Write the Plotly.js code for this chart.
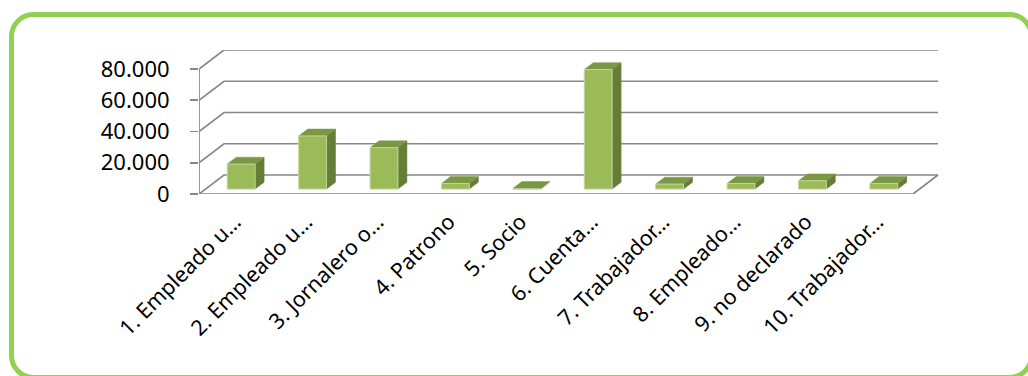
<!DOCTYPE html>
<html>
<head>
<meta charset="utf-8">
<script src="https://cdn.plot.ly/plotly-3.0.1.min.js"></script>
<style>
  html, body { margin: 0; padding: 0; background: #ffffff; overflow: hidden; }
  #chart { width: 1028px; height: 376px; }
</style>
</head>
<body>
<div id="chart"></div>
<script>
// ---- data ----
const categories = ["1. Empleado u…", "2. Empleado u…", "3. Jornalero o…", "4. Patrono", "5. Socio",
                    "6. Cuenta…", "7. Trabajador…", "8. Empleado…", "9. no declarado", "10. Trabajador…"];
const values = [16000, 34000, 26500, 3600, 400, 76500, 3200, 3600, 5300, 3600];
const yTickVals = [0, 20000, 40000, 60000, 80000];
const yTickText = ["0", "20.000", "40.000", "60.000", "80.000"];

// ---- geometry (pixels -> data units) ----
const W = 1028, H = 376;
const M = {l: 199, r: 89, t: 50, b: 182};
const plotW = W - M.l - M.r, plotH = H - M.t - M.b;
const pxPerCat = 71.4;            // front-axis pixels per category
const pxPer1000 = 1.5625;         // front-axis pixels per 1000 units
const n = categories.length;
const xMin = -0.5, xMax = xMin + plotW / pxPerCat;
const yMax = plotH / pxPer1000 * 1000;
const DX = 25 / pxPerCat;         // depth shift (x)
const DY = 19 / pxPer1000 * 1000; // depth shift (y)
const f0 = 0.26, f1 = 0.62;       // bar depth span (fraction of full depth)
const bw = 0.39;                  // bar width (categories)
const xFrontR = xMin + n;

const gridColor = "#878787";
const traces = [];

// back wall + side wall grid lines
const gx = [], gy = [];
yTickVals.forEach(v => {
  gx.push(xMin, xMin + DX, xFrontR + DX, null);
  gy.push(v, v + DY, v + DY, null);
});
// front left vertical axis
gx.push(xMin, xMin, null); gy.push(0, yTickVals[yTickVals.length - 1], null);
// front baseline + floor right edge
gx.push(xMin, xFrontR, xFrontR + DX, null); gy.push(0, 0, DY, null);
traces.push({x: gx, y: gy, mode: "lines", line: {color: gridColor, width: 1.7},
             hoverinfo: "skip", showlegend: false, xaxis: "x", yaxis: "y"});

// 3D-look bars
const cFront = "#9BBB59", cTop = "#7A9843", cSide = "#667D37", cEdge = "#C3D69B";
values.forEach((v, i) => {
  const xl = i - bw / 2, xr = i + bw / 2;
  const y0 = f0 * DY, y1 = f1 * DY;
  const a0 = f0 * DX, a1 = f1 * DX;
  traces.push({x: [xr + a0, xr + a1, xr + a1, xr + a0, xr + a0],
               y: [y0, y1, y1 + v, y0 + v, y0],
               mode: "lines", fill: "toself", fillcolor: cSide,
               line: {color: cSide, width: 0.5}, hoverinfo: "skip", showlegend: false});
  traces.push({x: [xl + a0, xr + a0, xr + a1, xl + a1, xl + a0],
               y: [y0 + v, y0 + v, y1 + v, y1 + v, y0 + v],
               mode: "lines", fill: "toself", fillcolor: cTop,
               line: {color: cTop, width: 0.5}, hoverinfo: "skip", showlegend: false});
  traces.push({x: [xl + a0, xr + a0, xr + a0, xl + a0, xl + a0],
               y: [y0, y0, y0 + v, y0 + v, y0],
               mode: "lines", fill: "toself", fillcolor: cFront,
               line: {color: cEdge, width: 1}, hoverinfo: "text",
               text: categories[i] + ": " + v, showlegend: false});
});

const boundaries = [];
for (let i = 0; i <= n; i++) boundaries.push(i - 0.5);

// rounded green frame (pixel geometry -> paper coords)
const PX = x => ((x - M.l) / plotW).toFixed(5);
const PY = y => (1 - (y - M.t) / plotH).toFixed(5);
function roundRect(x0, y0, x1, y1, r) {
  const k = 0.5523 * r;
  return "M" + PX(x0 + r) + "," + PY(y0) +
    " L" + PX(x1 - r) + "," + PY(y0) +
    " C" + PX(x1 - r + k) + "," + PY(y0) + " " + PX(x1) + "," + PY(y0 + r - k) + " " + PX(x1) + "," + PY(y0 + r) +
    " L" + PX(x1) + "," + PY(y1 - r) +
    " C" + PX(x1) + "," + PY(y1 - r + k) + " " + PX(x1 - r + k) + "," + PY(y1) + " " + PX(x1 - r) + "," + PY(y1) +
    " L" + PX(x0 + r) + "," + PY(y1) +
    " C" + PX(x0 + r - k) + "," + PY(y1) + " " + PX(x0) + "," + PY(y1 - r + k) + " " + PX(x0) + "," + PY(y1 - r) +
    " L" + PX(x0) + "," + PY(y0 + r) +
    " C" + PX(x0) + "," + PY(y0 + r - k) + " " + PX(x0 + r - k) + "," + PY(y0) + " " + PX(x0 + r) + "," + PY(y0) + " Z";
}

const font = {family: "Noto Sans, Open Sans, sans-serif", size: 21, color: "#000000"};

const layout = {
  width: W, height: H,
  margin: M,
  paper_bgcolor: "#ffffff", plot_bgcolor: "rgba(0,0,0,0)",
  showlegend: false,
  font: font,
  shapes: [{type: "path", xref: "paper", yref: "paper", layer: "above",
            path: roundRect(11.5, 14.5, 1031.5, 377.5, 22),
            line: {color: "#92D050", width: 5}, fillcolor: "rgba(0,0,0,0)"}],
  xaxis: {type: "linear", range: [xMin, xMax], tickmode: "array",
          tickvals: categories.map((c, i) => i), ticktext: categories,
          tickangle: -45, ticks: "", showgrid: false, zeroline: false, showline: false,
          ticklabelstandoff: 10,
          tickfont: {family: font.family, size: 21.5, color: "#000"}, fixedrange: true},
  xaxis2: {type: "linear", range: [xMin, xMax], overlaying: "x", anchor: "y", side: "bottom",
           tickmode: "array", tickvals: boundaries, ticks: "outside", ticklen: 9, tickwidth: 1.7,
           tickcolor: gridColor, showticklabels: false, showgrid: false, zeroline: false,
           showline: false, fixedrange: true},
  yaxis: {range: [0, yMax], tickmode: "array", tickvals: yTickVals, ticktext: yTickText,
          ticks: "outside", ticklen: 8, tickwidth: 1.7, tickcolor: gridColor,
          ticklabelstandoff: 16, showgrid: false, zeroline: false, showline: false,
          tickfont: {family: font.family, size: 22, color: "#000"}, fixedrange: true}
};

Plotly.newPlot("chart", traces, layout, {displayModeBar: false, staticPlot: true});
</script>
</body>
</html>
